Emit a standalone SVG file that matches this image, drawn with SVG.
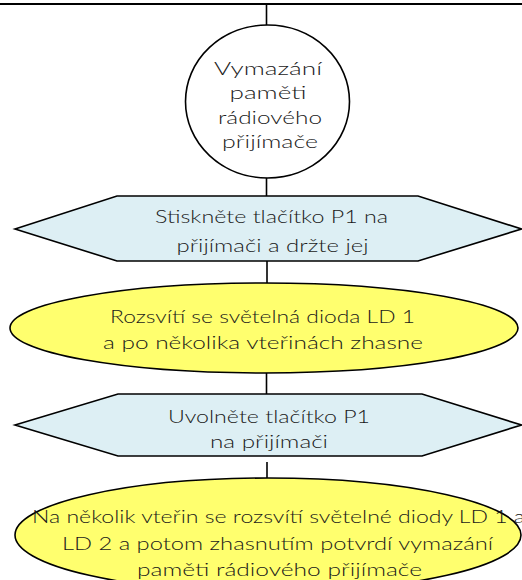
<svg xmlns="http://www.w3.org/2000/svg" width="522" height="580" viewBox="0 0 522 580">
  <style>
    .edge { stroke: #000; stroke-width: 1.6; fill: none; }
    .start { fill: #fff; stroke: #000; stroke-width: 1.6; }
    .action { fill: #ddeff4; stroke: #000; stroke-width: 1.6; stroke-linejoin: miter; }
    .result { fill: #ffff6e; stroke: #000; stroke-width: 1.6; }
    text { font-family: Lato, "Liberation Sans", Arial, sans-serif; font-weight: 300; font-size: 18.5px; fill: #1a1a1a; text-anchor: middle; }
  </style>
  <rect width="522" height="580" fill="#fff"/>

  <g id="connectors">
    <line class="edge" x1="0" y1="4" x2="522" y2="4" style="stroke-width:2.2"/>
    <line class="edge" x1="266.5" y1="4" x2="266.5" y2="25"/>
    <line class="edge" x1="266.5" y1="178" x2="266.5" y2="196"/>
    <line class="edge" x1="267" y1="261" x2="267" y2="283"/>
    <line class="edge" x1="266.5" y1="373" x2="266.5" y2="394"/>
    <line class="edge" x1="267" y1="462" x2="267" y2="484"/>
  </g>

  <g id="start">
    <ellipse class="start" cx="267.5" cy="101.5" rx="82" ry="76.5"/>
    <text x="268" y="75" textLength="108" lengthAdjust="spacingAndGlyphs">Vymazání</text>
    <text x="268" y="99" textLength="77" lengthAdjust="spacingAndGlyphs">paměti</text>
    <text x="270" y="124" textLength="104" lengthAdjust="spacingAndGlyphs">rádiového</text>
    <text x="270" y="148" textLength="96" lengthAdjust="spacingAndGlyphs">přijímače</text>
  </g>

  <g id="press">
    <polygon class="action" points="15,229 117,196 418,196 521.5,229 418,261 117,261"/>
    <text x="271.5" y="223" textLength="233" lengthAdjust="spacingAndGlyphs">Stiskněte tlačítko P1 na</text>
    <text x="272.5" y="252" textLength="192" lengthAdjust="spacingAndGlyphs">přijímači a držte jej</text>
  </g>

  <g id="led1">
    <ellipse class="result" cx="264" cy="328" rx="254" ry="45"/>
    <text x="262.5" y="323" textLength="305" lengthAdjust="spacingAndGlyphs">Rozsvítí se světelná dioda LD 1</text>
    <text x="263" y="349" textLength="320" lengthAdjust="spacingAndGlyphs">a po několika vteřinách zhasne</text>
  </g>

  <g id="release">
    <polygon class="action" points="15,425 118,394 422,394 521.5,425 422,456 118,456"/>
    <text x="269" y="423" textLength="202" lengthAdjust="spacingAndGlyphs">Uvolněte tlačítko P1</text>
    <text x="269" y="448" textLength="118" lengthAdjust="spacingAndGlyphs">na přijímači</text>
  </g>

  <g id="confirm">
    <ellipse class="result" cx="268" cy="535" rx="253" ry="57"/>
    <text x="32" y="523" textLength="493" lengthAdjust="spacingAndGlyphs" style="text-anchor:start">Na několik vteřin se rozsvítí světelné diody LD 1 a</text>
    <text x="277.5" y="550" textLength="431" lengthAdjust="spacingAndGlyphs">LD 2 a potom zhasnutím potvrdí vymazání</text>
    <text x="279.5" y="576" textLength="285" lengthAdjust="spacingAndGlyphs">paměti rádiového přijímače</text>
  </g>
</svg>
